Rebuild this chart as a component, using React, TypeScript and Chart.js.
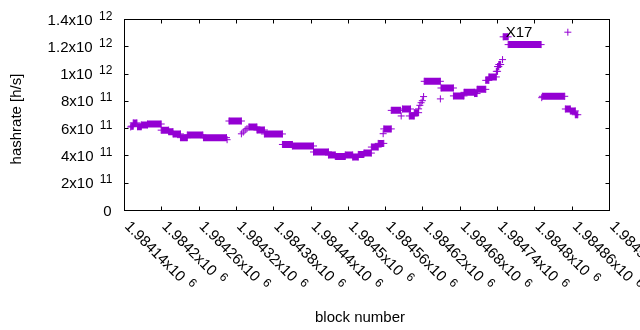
import React, { useEffect, useRef } from "react";
import { Chart, registerables } from "chart.js";
Chart.register(...registerables);

// Runs of blocks sharing one hashrate value (start block, end block, value in h/s)
const runStart = [
  1984150, 1984151, 1984154, 1984161, 1984167, 1984177, 1984199, 1984211, 1984218, 1984230,
  1984241, 1984267, 1984305, 1984308, 1984328, 1984331, 1984334, 1984337, 1984340, 1984353,
  1984365, 1984394, 1984410, 1984444, 1984468, 1984479, 1984495, 1984507, 1984516, 1984525,
  1984537, 1984548, 1984556, 1984557, 1984569, 1984585, 1984587, 1984598, 1984606, 1984613,
  1984615, 1984617, 1984619, 1984621, 1984622, 1984648, 1984649, 1984669, 1984686, 1984703,
  1984707, 1984721, 1984726, 1984738, 1984740, 1984742, 1984748, 1984749, 1984757, 1984811,
  1984812, 1984853, 1984849, 1984857, 1984865,
];
const runEnd = [
  1984150, 1984154, 1984160, 1984167, 1984177, 1984199, 1984211, 1984218, 1984230, 1984241,
  1984266, 1984304, 1984305, 1984328, 1984328, 1984331, 1984334, 1984337, 1984353, 1984365,
  1984394, 1984410, 1984444, 1984468, 1984479, 1984495, 1984507, 1984516, 1984525, 1984537,
  1984548, 1984557, 1984556, 1984569, 1984584, 1984585, 1984600, 1984606, 1984613, 1984613,
  1984615, 1984617, 1984619, 1984621, 1984648, 1984648, 1984669, 1984686, 1984703, 1984707,
  1984721, 1984726, 1984738, 1984740, 1984742, 1984745, 1984748, 1984757, 1984810, 1984811,
  1984848, 1984853, 1984857, 1984865, 1984869,
];
const runValue = [
  6.12e11, 6.18e11, 6.42e11, 6.14e11, 6.27e11, 6.34e11, 5.89e11, 5.78e11, 5.61e11, 5.34e11,
  5.53e11, 5.34e11, 5.19e11, 6.56e11, 5.62e11, 5.75e11, 5.9e11, 6.0e11, 6.12e11, 5.9e11,
  5.61e11, 4.84e11, 4.73e11, 4.29e11, 4.07e11, 3.96e11, 4.07e11, 3.92e11, 4.11e11, 4.21e11,
  4.65e11, 4.92e11, 5.63e11, 5.98e11, 7.34e11, 6.93e11, 7.44e11, 6.93e11, 7.17e11, 7.45e11,
  7.71e11, 7.9e11, 8.05e11, 8.35e11, 9.47e11, 8.18e11, 8.98e11, 8.4e11, 8.66e11, 8.57e11,
  8.88e11, 9.54e11, 9.79e11, 1.02e12, 1.055e12, 1.07e12, 1.106e12, 1.273e12, 1.216e12, 8.27e11,
  8.37e11, 1.307e12, 7.44e11, 7.3e11, 7.02e11,
];

const xMin = 1984140;
const xMax = 1984920;
const yMin = 0;
const yMax = 1.4e12;

const xTickValues = [
  1984140, 1984200, 1984260, 1984320, 1984380, 1984440, 1984500, 1984560, 1984620, 1984680,
  1984740, 1984800, 1984860, 1984920,
];
const xTickLabels = [
  "1.98414x10", "1.9842x10", "1.98426x10", "1.98432x10", "1.98438x10", "1.98444x10", "1.9845x10",
  "1.98456x10", "1.98462x10", "1.98468x10", "1.98474x10", "1.9848x10", "1.98486x10", "1.98492x10",
];
const xTickExp = "6";

const yTickValues = [0, 2e11, 4e11, 6e11, 8e11, 1e12, 1.2e12, 1.4e12];
const yTickLabels = ["0", "2x10", "4x10", "6x10", "8x10", "1x10", "1.2x10", "1.4x10"];
const yTickExps = ["", "11", "11", "11", "11", "12", "12", "12"];

const labelText = ["X17"];
const labelX = [1984753];
const labelY = [1.27e12];

const xTitle = "block number";
const yTitle = "hashrate [h/s]";

const COLOR = "#9400d3";
const FF = "'Liberation Sans', Arial, sans-serif";

const framePlugin = {
  id: "gnuFrame",
  afterDraw(chart: any) {
    const ctx = chart.ctx as CanvasRenderingContext2D;
    const { left, right, top, bottom } = chart.chartArea;
    const xs = chart.scales.x;
    const ys = chart.scales.y;
    ctx.save();
    ctx.strokeStyle = "#000";
    ctx.lineWidth = 1;
    ctx.strokeRect(left, top, right - left, bottom - top);
    ctx.beginPath();
    const tl = 4;
    xTickValues.forEach((v) => {
      const px = Math.floor(xs.getPixelForValue(v)) + 0.5;
      ctx.moveTo(px, bottom);
      ctx.lineTo(px, bottom - tl);
      ctx.moveTo(px, top);
      ctx.lineTo(px, top + tl);
    });
    yTickValues.forEach((v) => {
      const py = Math.floor(ys.getPixelForValue(v)) + 0.5;
      ctx.moveTo(left, py);
      ctx.lineTo(left + tl, py);
      ctx.moveTo(right, py);
      ctx.lineTo(right - tl, py);
    });
    ctx.stroke();

    ctx.fillStyle = "#000";
    const mainFont = `15px ${FF}`;
    const supFont = `12px ${FF}`;
    // y tick labels
    ctx.textBaseline = "alphabetic";
    yTickValues.forEach((v, i) => {
      const py = ys.getPixelForValue(v);
      if (yTickExps[i]) {
        ctx.font = supFont;
        const sw = ctx.measureText(yTickExps[i]).width;
        const supRight = 112.3;
        ctx.textAlign = "right";
        ctx.fillText(yTickExps[i], supRight, py);
        ctx.font = mainFont;
        ctx.fillText(yTickLabels[i], supRight - sw - 6.3, py + 5);
      } else {
        ctx.font = mainFont;
        ctx.textAlign = "right";
        ctx.fillText(yTickLabels[i], 111.5, py + 5);
      }
    });
    // x tick labels (rotated)
    xTickValues.forEach((v, i) => {
      const px = xs.getPixelForValue(v);
      ctx.save();
      ctx.translate(px - 0.5, 227);
      ctx.rotate(Math.PI / 4);
      ctx.textAlign = "left";
      ctx.textBaseline = "alphabetic";
      ctx.font = mainFont;
      ctx.fillText(xTickLabels[i], 0, 0);
      const w = ctx.measureText(xTickLabels[i]).width;
      ctx.font = supFont;
      ctx.fillText(xTickExp, w + 6.3, -5);
      ctx.restore();
    });
    // axis titles
    ctx.font = mainFont;
    ctx.textAlign = "center";
    ctx.textBaseline = "alphabetic";
    ctx.fillText(xTitle, 360, 321.5);
    ctx.save();
    ctx.translate(21, 119);
    ctx.rotate(-Math.PI / 2);
    ctx.fillText(yTitle, 0, 0);
    ctx.restore();
    // point labels
    ctx.textAlign = "left";
    labelText.forEach((t, i) => {
      ctx.fillText(t, xs.getPixelForValue(labelX[i]), ys.getPixelForValue(labelY[i]));
    });
    ctx.restore();
  },
};

export default function App() {
  const ref = useRef<HTMLCanvasElement | null>(null);
  useEffect(() => {
    if (!ref.current) return;
    const pts: { x: number; y: number | null }[] = [];
    for (let i = 0; i < runStart.length; i++) {
      pts.push({ x: runStart[i], y: runValue[i] });
      if (runEnd[i] !== runStart[i]) pts.push({ x: runEnd[i], y: runValue[i] });
      pts.push({ x: runEnd[i], y: null });
    }
    const chart = new Chart(ref.current, {
      type: "line",
      data: {
        datasets: [
          {
            data: pts as any,
            borderColor: COLOR,
            backgroundColor: COLOR,
            borderWidth: 7,
            borderCapStyle: "butt",
            pointStyle: "cross",
            pointRadius: 3.5,
            pointBorderWidth: 1,
            pointBorderColor: COLOR,
            pointHoverRadius: 3.5,
            spanGaps: false,
            tension: 0,
            fill: false,
          },
        ],
      },
      options: {
        animation: false,
        responsive: false,
        devicePixelRatio: 1,
        layout: { padding: { left: 124.5, right: 30.5, top: 19.5, bottom: 119.5 } },
        plugins: { legend: { display: false }, tooltip: { enabled: false }, title: { display: false } },
        events: [],
        scales: {
          x: { type: "linear", min: xMin, max: xMax, display: false },
          y: { type: "linear", min: yMin, max: yMax, display: false },
        },
      },
      plugins: [framePlugin],
    });
    return () => chart.destroy();
  }, []);
  return (
    <div style={{ position: "absolute", left: 0, top: 0, width: 640, height: 330, background: "#fff" }}>
      <canvas ref={ref} width={640} height={330} />
    </div>
  );
}
